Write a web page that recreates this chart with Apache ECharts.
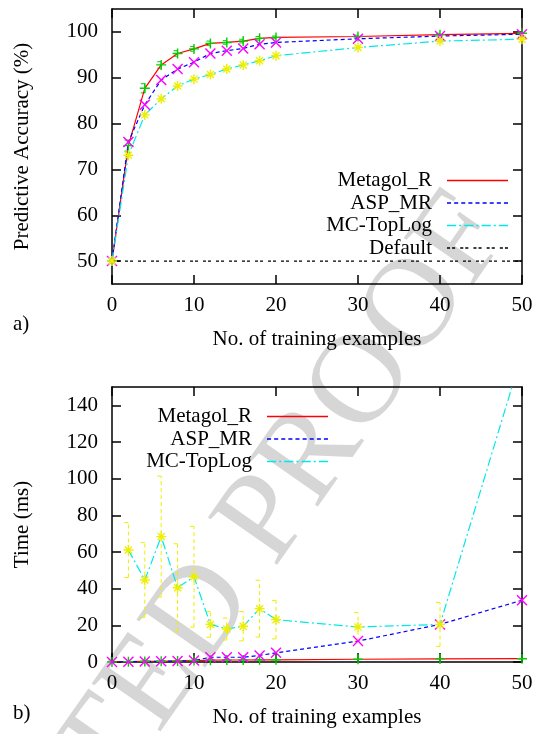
<!DOCTYPE html>
<html>
<head>
<meta charset="utf-8">
<script src="https://cdn.jsdelivr.net/npm/echarts@6/dist/echarts.min.js"></script>
<style>
html, body { margin: 0; padding: 0; background: #fff; }
#chart { width: 536px; height: 734px; }
</style>
</head>
<body>
<div id="chart"></div>
<script>
const xs = [0, 2, 4, 6, 8, 10, 12, 14, 16, 18, 20, 30, 40, 50]

// a) predictive accuracy (%)
const accMetagol = [50, 75.2, 87.7, 92.8, 95.3, 96.3, 97.5, 97.7, 98.0, 98.6, 98.8, 99.0, 99.4, 99.7]
const accMetagolErr = [0, 1.2, 1.0, 0.7, 0.6, 0.5, 0.5, 0.4, 0.4, 0.4, 0.3, 0.3, 0.3, 0.2]
const accAsp = [50, 76.0, 84.1, 89.5, 91.9, 93.4, 95.3, 95.9, 96.4, 97.3, 97.7, 98.5, 99.1, 99.5]
const accTopLog = [50, 73.1, 81.9, 85.4, 88.2, 89.7, 90.7, 91.9, 92.8, 93.7, 94.8, 96.6, 98.0, 98.4]
const accDefault = 50

// b) time (ms)
const timeMetagol = [0, 0.2, 0.3, 0.4, 0.6, 0.8, 1.0, 1.1, 1.1, 1.2, 1.2, 1.5, 1.7, 1.8]
const timeAsp = [0, 0.2, 0.3, 0.4, 0.5, 0.8, 2.6, 2.6, 2.6, 3.6, 5.0, 11.4, 20.5, 33.7]
const timeTopLog = [null, 61.1, 44.7, 68.4, 40.5, 46.5, 20.5, 18.0, 19.5, 29.1, 23.1, 19.1, 20.5, 168]
const timeTopLogErr = [null, 15, 20.5, 33, 24, 27.5, 7, 6, 8, 15.5, 10.5, 8, 12, null]

const xTicks = [0, 10, 20, 30, 40, 50]
const accTicks = [50, 60, 70, 80, 90, 100]
const timeTicks = [0, 20, 40, 60, 80, 100, 120, 140]

const FONT = 'Liberation Serif'
const C = {
  red: '#ff0000', green: '#00d000', blue: '#0000ff', magenta: '#ff00ff',
  cyan: '#00e8e8', yellow: '#eeee00', black: '#000'
}
const DASH_ASP = [4, 3]
const DASH_TOPLOG = [9, 3, 2, 3]
const DASH_DEFAULT = [3, 2, 3, 5]

const SYM_PLUS = 'path://M0,5L10,5M5,0L5,10'
const SYM_CROSS = 'path://M0,0L10,10M10,0L0,10'
const SYM_STAR = 'path://M0,5L10,5M5,0L5,10M1.5,1.5L8.5,8.5M8.5,1.5L1.5,8.5'

const pairs = (vals) => xs.map((x, i) => [x, vals[i]]).filter(p => p[1] != null)

// legend icon made of filled dash rectangles
function dashIcon(pattern, len) {
  if (!pattern) return `path://M0,0h${len}v1h-${len}z`
  let d = '', x = 0, k = 0
  while (x < len) {
    const w = Math.min(pattern[k % pattern.length], len - x)
    if (k % 2 === 0) d += `M${x},0h${w}v1h-${w}z`
    x += w
    k++
  }
  return 'path://' + d
}

function axisCommon(extra) {
  return Object.assign({
    type: 'value',
    axisLine: {show: true, onZero: false, lineStyle: {color: C.black, width: 1.5}},
    axisTick: {show: true, inside: true, length: 9, lineStyle: {color: C.black, width: 1.5}},
    splitLine: {show: false},
    axisLabel: {show: true, color: C.black, fontFamily: FONT, fontSize: 21},
    nameTextStyle: {color: C.black, fontFamily: FONT, fontSize: 21},
  }, extra)
}

function xAxes(gridIndex) {
  return [
    axisCommon({
      gridIndex, position: 'bottom', min: 0, max: 50,
      name: 'No. of training examples', nameLocation: 'middle', nameGap: 45,
      axisTick: {show: true, inside: true, length: 9, customValues: xTicks, lineStyle: {color: C.black, width: 1.5}},
      axisLabel: {color: C.black, fontFamily: FONT, fontSize: 21, margin: 11, customValues: xTicks},
    }),
    axisCommon({
      gridIndex, position: 'top', min: 0, max: 50,
      axisTick: {show: true, inside: true, length: 9, customValues: xTicks, lineStyle: {color: C.black, width: 1.5}},
      axisLabel: {show: false},
    }),
  ]
}

function yAxes(gridIndex, min, max, ticks, name) {
  return [
    axisCommon({
      gridIndex, position: 'left', min, max, name, nameLocation: 'middle', nameGap: 79,
      axisTick: {show: true, inside: true, length: 9, customValues: ticks, lineStyle: {color: C.black, width: 1.5}},
      axisLabel: {color: C.black, fontFamily: FONT, fontSize: 21, margin: 14, customValues: ticks},
    }),
    axisCommon({
      gridIndex, position: 'right', min, max,
      axisTick: {show: true, inside: true, length: 9, customValues: ticks, lineStyle: {color: C.black, width: 1.5}},
      axisLabel: {show: false},
    }),
  ]
}

function lineSeries(name, data, axisIdx, lineColor, dash, symbol, symColor) {
  return {
    name, type: 'line', data, xAxisIndex: axisIdx, yAxisIndex: axisIdx,
    symbol: symbol || 'none', symbolSize: 10, showSymbol: !!symbol,
    clip: true, animation: false,
    lineStyle: {color: lineColor, width: 1.2, type: dash || 'solid'},
    itemStyle: {color: symColor || lineColor, borderColor: symColor || lineColor, borderWidth: 1.4},
    emphasis: {disabled: true},
    z: 3,
  }
}

function errorSeries(means, errs, axisIdx, color, dash) {
  const data = xs.map((x, i) => (means[i] == null || errs[i] == null) ? null
    : [x, means[i] - errs[i], means[i] + errs[i]]).filter(Boolean)
  return {
    type: 'custom', xAxisIndex: axisIdx, yAxisIndex: axisIdx, data, clip: true,
    encode: {x: 0, y: [1, 2]}, silent: true, animation: false, z: 2,
    renderItem(params, api) {
      const lo = api.coord([api.value(0), api.value(1)])
      const hi = api.coord([api.value(0), api.value(2)])
      const style = {stroke: color, lineWidth: 1, lineDash: dash || null}
      const cap = 4
      return {
        type: 'group', children: [
          {type: 'line', shape: {x1: lo[0], y1: lo[1], x2: hi[0], y2: hi[1]}, style},
          {type: 'line', shape: {x1: lo[0] - cap, y1: lo[1], x2: lo[0], y2: lo[1]}, style},
          {type: 'line', shape: {x1: hi[0] - cap, y1: hi[1], x2: hi[0], y2: hi[1]}, style},
        ]
      }
    }
  }
}

function legendItem(name, color, dash) {
  return {name, icon: dashIcon(dash, 60), itemStyle: {color, borderWidth: 0}}
}

const legendCommon = {
  orient: 'vertical', align: 'right', padding: 0, itemGap: 1.5,
  itemWidth: 61, itemHeight: 1.5, symbolKeepAspect: false, selectedMode: false,
  textStyle: {color: C.black, fontFamily: FONT, fontSize: 21, lineHeight: 21, padding: [0, 10, 0, 0]},
}

const chart = echarts.init(document.getElementById('chart'), null, {renderer: 'canvas'})
chart.setOption({
  animation: false,
  backgroundColor: '#fff',
  grid: [
    {left: 112, right: 14, top: 9, height: 275},
    {left: 112, right: 14, top: 387, height: 275},
  ],
  xAxis: [...xAxes(0), ...xAxes(1)],
  yAxis: [
    ...yAxes(0, 45, 105, accTicks, 'Predictive Accuracy (%)'),
    ...yAxes(1, 0, 150, timeTicks, 'Time (ms)'),
  ],
  legend: [
    Object.assign({}, legendCommon, {
      right: 28, top: 170,
      data: [
        legendItem('Metagol_R', C.red),
        legendItem('ASP_MR', C.blue, DASH_ASP),
        legendItem('MC-TopLog', C.cyan, DASH_TOPLOG),
        legendItem('Default', C.black, DASH_DEFAULT),
      ]
    }),
    Object.assign({}, legendCommon, {
      right: 208, top: 406,
      data: [
        legendItem('Metagol_R', C.red),
        legendItem('ASP_MR', C.blue, DASH_ASP),
        legendItem('MC-TopLog', C.cyan, DASH_TOPLOG),
      ]
    }),
  ],
  graphic: [
    {type: 'text', x: 536, y: 248, rotation: 0.96, z: -1, silent: true,
      style: {text: 'UNCORRECTED PROOF', font: `128px "${FONT}"`, fill: '#d6d6d6', align: 'right', verticalAlign: 'bottom'}},
    {type: 'text', left: 13, top: 314, style: {text: 'a)', font: `21px "${FONT}"`, fill: C.black}},
    {type: 'text', left: 13, top: 703, style: {text: 'b)', font: `21px "${FONT}"`, fill: C.black}},
  ],
  series: [
    // a)
    errorSeries(accMetagol, accMetagolErr, 0, C.green),
    lineSeries('Metagol_R', pairs(accMetagol), 0, C.red, null, SYM_PLUS, C.green),
    lineSeries('ASP_MR', pairs(accAsp), 0, C.blue, DASH_ASP, SYM_CROSS, C.magenta),
    lineSeries('MC-TopLog', pairs(accTopLog), 0, C.cyan, DASH_TOPLOG, SYM_STAR, C.yellow),
    lineSeries('Default', [[0, accDefault], [50, accDefault]], 0, C.black, DASH_DEFAULT),
    // b)
    lineSeries('Metagol_R', pairs(timeMetagol), 2, C.red, null, SYM_PLUS, C.green),
    lineSeries('ASP_MR', pairs(timeAsp), 2, C.blue, DASH_ASP, SYM_CROSS, C.magenta),
    errorSeries(timeTopLog, timeTopLogErr, 2, C.yellow, [4, 3]),
    lineSeries('MC-TopLog', pairs(timeTopLog), 2, C.cyan, DASH_TOPLOG, SYM_STAR, C.yellow),
  ]
})
</script>
</body>
</html>
